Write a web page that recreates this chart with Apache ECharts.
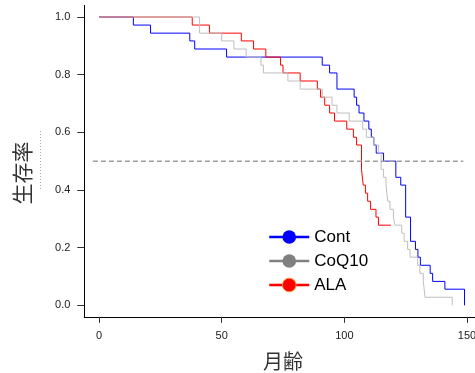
<!DOCTYPE html>
<html><head><meta charset="utf-8">
<script src="https://cdn.jsdelivr.net/npm/echarts@6/dist/echarts.min.js"></script>
<style>html,body{margin:0;padding:0;background:#fff}#c{width:475px;height:373px}</style>
</head><body><div id="c"></div>
<script>
const xTicks = [0, 50, 100, 150];
const yTicks = [0, 0.2, 0.4, 0.6, 0.8, 1.0];
const seriesNames = ['Cont', 'CoQ10', 'ALA'];

const contTime = [0, 14, 21, 37, 39, 52, 91, 94, 97, 104, 105, 106, 108, 110, 111, 112, 113, 116, 121, 123, 125, 127, 129, 130, 131, 135, 136, 141, 149];
const contSurv = [1, .972, .944, .917, .889, .861, .833, .806, .750, .722, .694, .667, .639, .611, .583, .556, .528, .500, .444, .417, .306, .222, .194, .167, .139, .111, .083, .056, 0];

const coqTime = [0, 41, 50, 55, 60, 66, 67, 77, 82, 91, 95, 97, 102, 107.5, 109, 112, 114, 115, 116, 117, 117.7, 118.6, 120, 120.7, 123.4, 124.4, 125.8, 126.8, 129.9, 130.8, 132.2, 132.9, 144];
const coqSurv = [1, .944, .917, .889, .861, .833, .806, .778, .750, .722, .694, .667, .639, .611, .583, .556, .528, .472, .444, .417, .361, .333, .306, .278, .250, .222, .194, .167, .139, .111, .083, .028, 0];

const alaTime = [0, 38, 45, 58, 63, 68, 74, 75, 82, 89, 90.3, 92, 94, 96, 101, 103.7, 105, 107, 107.7, 108.6, 109.5, 110.7, 112.9, 113.9, 119];
const alaSurv = [1, .972, .944, .917, .889, .861, .833, .806, .778, .750, .722, .694, .667, .639, .611, .583, .556, .472, .417, .389, .361, .333, .306, .278, .278];

const refX = [-2.5, 148.5];
const refY = [0.5, 0.5];

function pairs(t, s) { return t.map((v, i) => [v, s[i]]); }

const chart = echarts.init(document.getElementById('c'), null, {renderer: 'canvas'});
const kmSeries = (name, t, s, color) => ({
  name, type: 'line', step: 'end', data: pairs(t, s),
  symbol: 'circle', showSymbol: false, silent: true,
  lineStyle: {color, width: 1}, itemStyle: {color}
});
chart.setOption({
  animation: false,
  grid: {left: 84.3, width: 397.4, top: 5.47, height: 311.4, outerBoundsMode: 'none', containLabel: false},
  xAxis: {
    type: 'value', min: -6, max: 156,
    name: '月齢', nameLocation: 'middle', nameGap: 35,
    nameTextStyle: {fontSize: 20, color: '#333', fontFamily: 'Noto Sans CJK JP'},
    axisLine: {show: true, onZero: false, lineStyle: {color: '#000', width: 1}},
    axisTick: {show: true, length: 6, customValues: xTicks, lineStyle: {color: '#333'}},
    axisLabel: {customValues: xTicks, margin: 14, fontSize: 11, color: '#222', fontFamily: 'Liberation Sans'},
    splitLine: {show: false}
  },
  yAxis: {
    type: 'value', min: -0.04, max: 1.04,
    axisLine: {show: true, onZero: false, lineStyle: {color: '#000', width: 1}},
    axisTick: {show: true, length: 7, customValues: yTicks, lineStyle: {color: '#333'}},
    axisLabel: {customValues: yTicks, formatter: v => v.toFixed(1), margin: 14, fontSize: 11, color: '#222', fontFamily: 'Liberation Sans'},
    splitLine: {show: false}
  },
  legend: {
    orient: 'vertical', left: 268, top: 228.5, padding: 0, itemWidth: 40, itemHeight: 17, itemGap: 7,
    selectedMode: false,
    textStyle: {fontSize: 17, color: '#000', fontFamily: 'Liberation Sans'},
    data: [
      {name: seriesNames[0], itemStyle: {color: '#0000ff'}, lineStyle: {color: '#0000ff', width: 2.5}},
      {name: seriesNames[1], itemStyle: {color: '#808080'}, lineStyle: {color: '#808080', width: 2.5}},
      {name: seriesNames[2], itemStyle: {color: '#ff0000', borderColor: '#ff9020', borderWidth: 1}, lineStyle: {color: '#ff0000', width: 2.5}}
    ]
  },
  graphic: [
    {type: 'text', x: 22, y: 173, rotation: Math.PI / 2,
     style: {text: '生存率', font: '21px "Noto Sans CJK JP"', fill: '#333', textAlign: 'center', textVerticalAlign: 'middle'}},
    {type: 'line', shape: {x1: 40.5, y1: 131, x2: 40.5, y2: 190},
     style: {stroke: '#aaa', lineWidth: 1, lineDash: [1, 2]}}
  ],
  series: [
    kmSeries(seriesNames[0], contTime, contSurv, '#0000ff'),
    kmSeries(seriesNames[2], alaTime, alaSurv, '#ff0000'),
    kmSeries(seriesNames[1], coqTime, coqSurv, '#bebebe'),
    {name: 'ref', type: 'line', data: pairs(refX, refY), showSymbol: false, silent: true,
     lineStyle: {color: '#a0a0a0', width: 1.5, type: [5, 3]}}
  ]
});
</script></body></html>
